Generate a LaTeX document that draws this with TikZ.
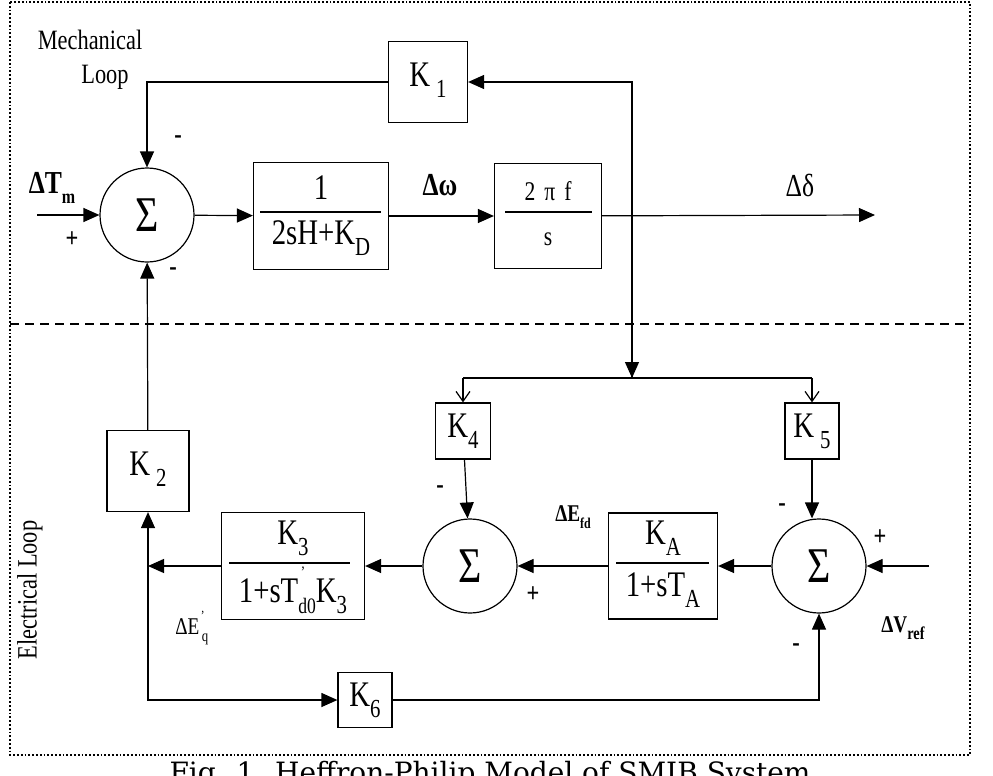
\documentclass[tikz,border=0pt]{standalone}
\usepackage{fontspec}
\setmainfont[FakeStretch=0.8]{Liberation Serif}
\newfontfamily\capfont{DejaVu Serif}
\usetikzlibrary{arrows.meta}
\newcommand\mysub[2]{\raisebox{-0.3em}{\fontsize{#1}{#1}\selectfont #2}}
\begin{document}
\begin{tikzpicture}[x=1pt,y=-1pt,
  blk/.style={draw,line width=1.2pt,minimum width=#1,inner sep=0pt},
  sum/.style={draw,line width=1.2pt,circle,minimum size=94pt,inner sep=0pt,font=\fontsize{50}{50}\selectfont},
  ln/.style={line width=1.2pt},
  ar/.style={ln,-{Triangle[length=16pt,width=14pt]}},
  oar/.style={ln,-{Straight Barb[length=10pt,width=14pt]}},
  lab/.style={font=\fontsize{36}{36}\selectfont},
  sg/.style={font=\bfseries\fontsize{28}{28}\selectfont}]
\useasboundingbox (0,0) rectangle (993,776);
\clip (0,0) rectangle (993,776);
% frame
\draw[line width=1.8pt,dotted] (10,2) rectangle (970,755);
\draw[line width=1.2pt,dash pattern=on 9pt off 6pt] (10,324) -- (970,324);
% blocks
\node[sum] (s1) at (147,215) {Σ};
\node[sum] (s2) at (470,566) {Σ};
\node[sum] (s3) at (819,566) {Σ};
\node[blk=79pt,minimum height=81pt] (k1) at (428,82) {};
\node[lab] at (428,80) {K\,\mysub{26}{1}};
\node[blk=135pt,minimum height=107pt] (g1) at (321,216) {};
\node[blk=107pt,minimum height=105pt] (g2) at (548,216) {};
\node[blk=55pt,minimum height=56pt] (k4) at (463,431) {};
\node[blk=54pt,minimum height=56pt] (k5) at (812,431) {};
\node[blk=82pt,minimum height=81pt] (k2) at (148,471) {};
\node[blk=143pt,minimum height=107pt] (k3) at (293,566) {};
\node[blk=109pt,minimum height=106pt] (ka) at (663,566) {};
\node[blk=54pt,minimum height=55pt] (k6) at (365,700) {};
\node[lab] at (463,431) {K\mysub{26}{4}};
\node[lab] at (812,431) {K\,\mysub{26}{5}};
\node[lab] at (148,469) {K\,\mysub{26}{2}};
\node[lab] at (365,700) {K\mysub{26}{6}};
% fractions
\draw[ln] (260,212) -- (381,212);
\node[lab] at (321,188) {1};
\node[lab] at (321,238) {2sH+K\mysub{26}{D}};
\draw[ln] (505,212) -- (592,212);
\node[font=\fontsize{27}{27}\selectfont] at (548,191) {2\,\,π\,\,f};
\node[font=\fontsize{27}{27}\selectfont] at (548,239) {s};
\draw[ln] (229,563) -- (350,563);
\node[lab] at (293,538) {K\mysub{26}{3}};
\node[lab] at (293,590) {1+sT\rlap{\raisebox{0.7em}{\fontsize{16}{16}\selectfont\,'}}\mysub{22}{d0}K\mysub{26}{3}};
\draw[ln] (616,563) -- (709,563);
\node[lab] at (663,538) {K\mysub{26}{A}};
\node[lab] at (663,590) {1+sT\mysub{26}{A}};
% coordinates
\coordinate (tin) at (37,215);
\coordinate (c1) at (147,82);
\coordinate (jt) at (632,82);
\coordinate (jb) at (632,378);
\coordinate (bl) at (463,378);
\coordinate (br) at (812,378);
\coordinate (out) at (875,215);
\coordinate (vin) at (929,566);
\coordinate (el) at (148,566);
\coordinate (eb) at (148,700);
\coordinate (rb) at (819,700);
% mechanical
\draw[ar] (tin) -- (s1);
\draw[ar] (s1) -- (g1);
\draw[ar] (g1) -- (g2);
\draw[ar] (g2) -- (out);
\draw[ar] (k1.west) -- (c1) -- (s1);
\draw[ar] (jb) -- (jt) -- (k1.east);
\draw[ar] (jt) -- (jb);
\draw[ln] (bl) -- (br);
\draw[oar] (bl) -- (k4);
\draw[oar] (br) -- (k5);
% electrical
\draw[ar] (k4) -- (s2);
\draw[ar] (k5.south) -- (s3.north -| k5.south);
\draw[ar] (vin) -- (s3);
\draw[ar] (s3) -- (ka);
\draw[ar] (ka) -- (s2);
\draw[ar] (s2) -- (k3);
\draw[ar] (k3) -- (el);
\draw[ar] (el) -- (k2);
\draw[ar] (k2) -- (s1);
\draw[ar] (el) -- (eb) -- (k6);
\draw[ar] (k6) -- (rb) -- (s3);
% labels
\node[sg,font=\bfseries\fontsize{32}{32}\selectfont] at (52,188) {ΔT\mysub{20}{m}};
\node[sg] at (72,240) {+};
\node[sg] at (178,140) {-};
\node[sg] at (173,272) {-};
\node[sg,font=\bfseries\fontsize{32}{32}\selectfont] at (440,185) {Δω};
\node[font=\fontsize{32}{32}\selectfont] at (800,185) {Δδ};
\node[font=\bfseries\fontsize{24}{24}\selectfont] at (573,517) {ΔE\mysub{15}{fd}};
\node[sg] at (533,595) {+};
\node[sg] at (440,490) {-};
\node[sg] at (782,508) {-};
\node[sg] at (880,538) {+};
\node[font=\bfseries\fontsize{24}{24}\selectfont] at (903,628) {ΔV\mysub{18}{ref}};
\node[sg] at (796,648) {-};
\node[font=\fontsize{24}{24}\selectfont] at (190,628) {ΔE\hspace{0.1em}\mysub{16}{q}\hspace{-0.3em}\raisebox{0.6em}{\fontsize{14}{14}\selectfont'}};
\node[font=\fontsize{28}{28}\selectfont,rotate=90] at (30,590) {Electrical Loop};
\node[font=\fontsize{28}{28}\selectfont] at (90,40) {Mechanical};
\node[font=\fontsize{28}{28}\selectfont] at (105,77) {Loop};
\node[font=\capfont\fontsize{28}{28}\selectfont,anchor=north] at (490,758) {Fig. 1. Heffron-Philip Model of SMIB System};
\end{tikzpicture}
\end{document}
